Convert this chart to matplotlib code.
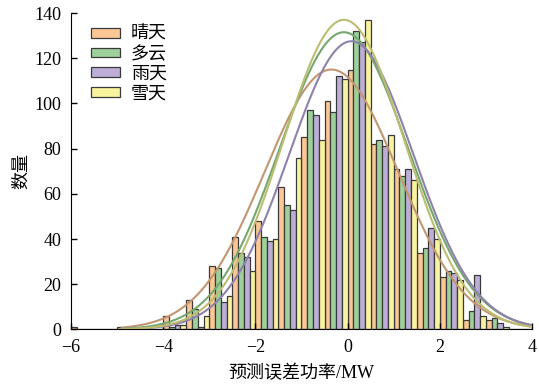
import numpy as np
import matplotlib
matplotlib.use("Agg")
import matplotlib.pyplot as plt
from matplotlib.patches import Patch

plt.rcParams['font.family'] = ['Liberation Serif', 'Noto Sans CJK SC']
plt.rcParams['axes.unicode_minus'] = True

# histogram data: left edges of bins (width 0.5), counts per weather type
bin_left = [-6, -5.5, -5, -4.5, -4, -3.5, -3, -2.5, -2, -1.5,
            -1, -0.5, 0, 0.5, 1, 1.5, 2, 2.5, 3, 3.5]
sunny  = [1, 0, 1, 0, 6, 13, 28, 41, 48, 63, 85, 101, 115, 82, 71, 34, 23, 4, 4, 0]
cloudy = [0, 0, 0, 0, 1, 9, 27, 34, 41, 55, 97, 96, 132, 84, 68, 36, 26, 8, 5, 0]
rainy  = [0, 0, 0, 0, 2, 1, 12, 32, 39, 53, 95, 112, 127, 81, 71, 45, 25, 24, 3, 0]
snowy  = [0, 0, 0, 0, 2, 6, 15, 26, 40, 76, 84, 111, 137, 86, 66, 40, 22, 6, 1, 0]

labels = ['晴天', '多云', '雨天', '雪天']

# fitted normal curves: peak height, mean, std
fit_peak = [115, 131.5, 127.5, 137]
fit_mu = [-0.35, -0.08, 0.08, -0.08]
fit_sigma = [1.45, 1.40, 1.35, 1.32]

bar_colors = ['#fcc795', '#9dd09a', '#bcaed6', '#f8f39e']
line_colors = ['#c29671', '#74a86f', '#8f82aa', '#bcbd72']

fig = plt.figure(figsize=(5.39, 3.86), dpi=100)
ax = fig.add_axes([0.1317, 0.1464, 0.8553, 0.8199])

bw = 0.5
sub = bw / 4
x0 = np.array(bin_left)
handles = []
for i, counts in enumerate([sunny, cloudy, rainy, snowy]):
    ax.bar(x0 + i * sub, counts, width=sub, align='edge',
           color=bar_colors[i], edgecolor='#3a3a3a', linewidth=0.9)
    handles.append(Patch(facecolor=bar_colors[i], edgecolor='#3a3a3a',
                         linewidth=0.9, label=labels[i]))

xs = np.linspace(-4.9, 4, 300)
for i in range(4):
    ys = fit_peak[i] * np.exp(-0.5 * ((xs - fit_mu[i]) / fit_sigma[i]) ** 2)
    ax.plot(xs, ys, color=line_colors[i], linewidth=1.5)

ax.set_xlim(-6, 4)
ax.set_ylim(0, 140)
ax.set_xticks([-6, -4, -2, 0, 2, 4])
ax.set_yticks([0, 20, 40, 60, 80, 100, 120, 140])
ax.spines['top'].set_visible(False)
ax.spines['right'].set_visible(False)
ax.tick_params(direction='in', labelsize=13, length=4, width=1)
ax.tick_params(axis='x', pad=7)
ax.tick_params(axis='y', pad=7)
ax.set_xlabel('预测误差功率/MW', fontsize=13, labelpad=6)
ax.set_ylabel('数量', fontsize=13, labelpad=3)

ax.legend(handles=handles, loc='upper left', bbox_to_anchor=(0.008, 1.01),
          frameon=False, fontsize=13, handlelength=1.6, handleheight=0.45,
          labelspacing=0.15, handletextpad=0.6)

fig.savefig('out.png', dpi=100)
